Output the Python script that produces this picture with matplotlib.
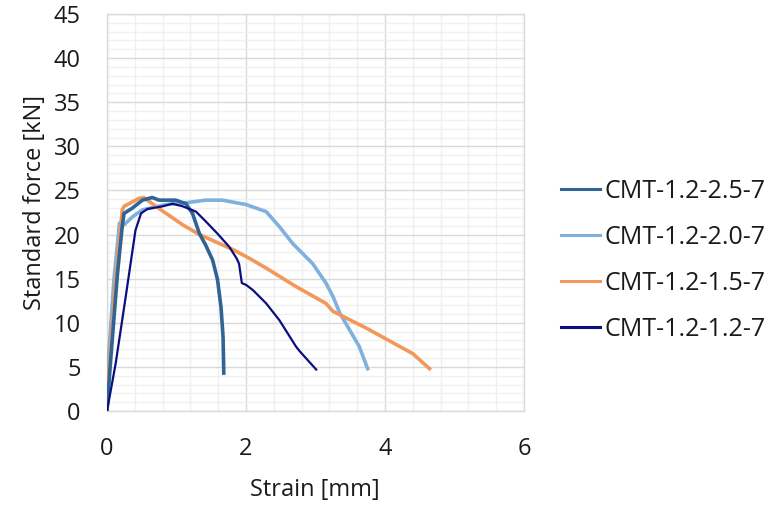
import matplotlib
matplotlib.use("Agg")
import matplotlib.pyplot as plt
from matplotlib.ticker import MultipleLocator

plt.rcParams['font.family'] = ['Open Sans', 'DejaVu Sans']

# Force-strain curves of the four CMT specimens
strain_25 = [0, 0.05, 0.15, 0.22, 0.245, 0.365, 0.51, 0.65, 0.75, 0.99, 1.135, 1.23,
             1.33, 1.42, 1.52, 1.59, 1.64, 1.67, 1.68]
force_25 = [0, 5.5, 15.5, 21.0, 22.4, 23.0, 23.9, 24.2, 23.9, 23.9, 23.5, 22.4,
            20.1, 18.8, 17.1, 14.9, 11.8, 8.4, 4.3]

strain_20 = [0, 0.10, 0.18, 0.245, 0.365, 0.51, 0.85, 1.135, 1.42, 1.66, 2.0, 2.29,
             2.48, 2.67, 2.96, 3.15, 3.25, 3.35, 3.49, 3.63, 3.75]
force_20 = [3.5, 14.9, 21.3, 21.1, 22.0, 22.8, 23.4, 23.6, 23.9, 23.9, 23.4, 22.6,
            20.9, 19.0, 16.7, 14.5, 13.0, 11.1, 9.2, 7.3, 4.8]

strain_15 = [0, 0.125, 0.22, 0.245, 0.46, 0.53, 0.65, 0.85, 1.09, 1.33, 1.81, 2.05,
             2.29, 2.72, 3.15, 3.25, 3.73, 4.40, 4.64]
force_15 = [1.6, 14.9, 22.8, 23.2, 24.1, 24.2, 23.5, 22.4, 21.1, 20.0, 18.3, 17.3,
            16.2, 14.1, 12.2, 11.3, 9.4, 6.5, 4.8]

strain_12 = [0, 0.125, 0.27, 0.41, 0.49, 0.58, 0.80, 0.94, 1.09, 1.28, 1.42, 1.59,
             1.76, 1.865, 1.90, 1.94, 2.0, 2.10, 2.29, 2.48, 2.72, 2.77, 3.01]
force_12 = [0, 5.4, 13.0, 20.5, 22.4, 22.9, 23.2, 23.5, 23.2, 22.6, 21.5, 20.1,
            18.6, 17.3, 16.7, 14.5, 14.3, 13.7, 12.2, 10.3, 7.3, 6.8, 4.7]

labels = ["CMT-1.2-2.5-7", "CMT-1.2-2.0-7", "CMT-1.2-1.5-7", "CMT-1.2-1.2-7"]
x_ticks = [0, 2, 4, 6]
y_ticks = [0, 5, 10, 15, 20, 25, 30, 35, 40, 45]

fig = plt.figure(figsize=(7.82, 5.05), dpi=100)
ax = fig.add_axes([107 / 782, 1 - 411 / 505, (524 - 107) / 782, (411 - 14) / 505])

ax.set_xlim(0, 6)
ax.set_ylim(0, 45)
ax.set_xticks(x_ticks)
ax.set_yticks(y_ticks)
ax.xaxis.set_minor_locator(MultipleLocator(0.4))
ax.yaxis.set_minor_locator(MultipleLocator(1))
ax.grid(which='major', color='#D9D9D9', linewidth=1.0)
ax.grid(which='minor', color='#F0F0F0', linewidth=1.0)
ax.set_axisbelow(True)
for s in ax.spines.values():
    s.set_color('#D9D9D9')
    s.set_linewidth(1.0)
ax.tick_params(which='both', length=0)
ax.tick_params(axis='y', pad=19, labelsize=17, labelcolor='#1a1a1a')
ax.tick_params(axis='x', pad=19, labelsize=17, labelcolor='#1a1a1a')

ax.plot(strain_25, force_25, color='#2F6494', lw=2.6, label=labels[0], zorder=4)
ax.plot(strain_20, force_20, color='#7FB1DE', lw=2.6, label=labels[1], zorder=3)
ax.plot(strain_15, force_15, color='#F2985A', lw=2.6, label=labels[2], zorder=3)
ax.plot(strain_12, force_12, color='#0B0E80', lw=1.6, label=labels[3], zorder=5)

fig.text(315 / 782, 1 - 490 / 505, "Strain [mm]", ha='center', va='center',
         fontsize=17, color='#1a1a1a')
fig.text(35 / 782, 1 - 203 / 505, "Standard force [kN]", ha='center', va='center',
         rotation=90, fontsize=17, color='#1a1a1a')

leg = ax.legend(loc='upper left', bbox_to_anchor=(561 / 782, 1 - 179 / 505),
                bbox_transform=fig.transFigure, frameon=False, fontsize=18,
                handlelength=1.55, handletextpad=0.2, labelspacing=0.84,
                borderaxespad=0, borderpad=0)
for line in leg.get_lines():
    line.set_linewidth(2.2)
for t in leg.get_texts():
    t.set_color('#1a1a1a')

fig.savefig("out.png", dpi=100)
